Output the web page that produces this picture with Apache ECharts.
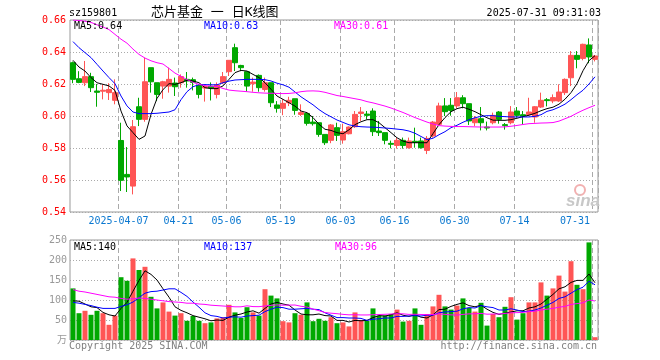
<!DOCTYPE html>
<html><head><meta charset="utf-8">
<script src="https://cdn.jsdelivr.net/npm/echarts@6/dist/echarts.min.js"></script>
<style>html,body{margin:0;padding:0;background:#fff}#c{width:660px;height:360px}</style>
</head><body><div id="c"></div>
<script>
const dates = ['2025-03-25','2025-03-26','2025-03-27','2025-03-28','2025-03-31','2025-04-01','2025-04-02','2025-04-03',
'2025-04-07','2025-04-08','2025-04-09','2025-04-10','2025-04-11','2025-04-14','2025-04-15','2025-04-16','2025-04-17','2025-04-18',
'2025-04-21','2025-04-22','2025-04-23','2025-04-24','2025-04-25','2025-04-28','2025-04-29','2025-04-30',
'2025-05-06','2025-05-07','2025-05-08','2025-05-09','2025-05-12','2025-05-13','2025-05-14','2025-05-15','2025-05-16',
'2025-05-19','2025-05-20','2025-05-21','2025-05-22','2025-05-23','2025-05-26','2025-05-27','2025-05-28','2025-05-29','2025-05-30',
'2025-06-03','2025-06-04','2025-06-05','2025-06-06','2025-06-09','2025-06-10','2025-06-11','2025-06-12','2025-06-13',
'2025-06-16','2025-06-17','2025-06-18','2025-06-19','2025-06-20','2025-06-23','2025-06-24','2025-06-25','2025-06-26','2025-06-27',
'2025-06-30','2025-07-01','2025-07-02','2025-07-03','2025-07-04','2025-07-07','2025-07-08','2025-07-09','2025-07-10','2025-07-11',
'2025-07-14','2025-07-15','2025-07-16','2025-07-17','2025-07-18','2025-07-21','2025-07-22','2025-07-23','2025-07-24','2025-07-25',
'2025-07-28','2025-07-29','2025-07-30','2025-07-31'];
const labelDates = ['2025-04-07','2025-04-21','2025-05-06','2025-05-19','2025-06-03','2025-06-16','2025-06-30','2025-07-14','2025-07-31'];

const open  = [.6333,.6233,.6208,.6246,.6156,.6155,.6146,.6098,.5847,.5635,.5562,.6058,.5979,.6302,.6208,.6187,.6187,.6206,.6208,.6229,
.6227,.6191,.6175,.6186,.6135,.6208,.6277,.6427,.6316,.6277,.6202,.6254,.6166,.6208,.6069,.6048,.6083,.6108,.6010,.6016,
.5962,.5958,.5885,.5848,.5927,.5850,.5889,.5933,.6016,.6012,.6031,.5906,.5896,.5829,.5816,.5848,.5802,.5842,.5844,.5785,
.5875,.5948,.6063,.6067,.6063,.6114,.6077,.5958,.5983,.5931,.5958,.6025,.5946,.5958,.6031,.6008,.6008,.5994,.6056,.6102,
.6094,.6094,.6146,.6239,.6379,.6360,.6444,.6354];
const close = [.6229,.6210,.6246,.6177,.6148,.6161,.6166,.6146,.5598,.5619,.5933,.5979,.6214,.6214,.6135,.6214,.6229,.6183,.6246,.6219,
.6210,.6135,.6184,.6175,.6194,.6246,.6348,.6333,.6302,.6187,.6212,.6177,.6208,.6083,.6048,.6079,.6098,.6035,.6021,.5954,
.5952,.5885,.5833,.5944,.5879,.5902,.5931,.6010,.6025,.6004,.5902,.5896,.5848,.5823,.5848,.5816,.5844,.5835,.5802,.5860,
.5962,.6063,.6027,.6035,.6114,.6077,.5969,.5983,.5958,.5925,.6004,.5979,.5940,.6025,.6004,.6000,.6025,.6058,.6098,.6096,
.6115,.6150,.6229,.6379,.6354,.6448,.6369,.6375];
const low   = [.6205,.6205,.6187,.6150,.6058,.6104,.6100,.6073,.5531,.5525,.5510,.5937,.5964,.6146,.6093,.6108,.6146,.6125,.6177,.6177,
.6160,.6110,.6090,.6097,.6110,.6200,.6250,.6281,.6280,.6152,.6152,.6152,.6152,.6056,.6021,.6005,.6062,.6008,.6000,.5940,
.5940,.5870,.5819,.5830,.5844,.5827,.5885,.5925,.5969,.5979,.5875,.5875,.5823,.5798,.5796,.5796,.5796,.5802,.5796,.5762,
.5865,.5937,.6000,.6002,.6048,.6048,.5944,.5937,.5910,.5910,.5948,.5952,.5915,.5948,.5990,.5948,.6000,.5958,.6050,.6060,
.6080,.6088,.6131,.6187,.6298,.6348,.6330,.6341];
const high  = [.6340,.6280,.6344,.6270,.6200,.6198,.6205,.6229,.5958,.5806,.5975,.6114,.6364,.6302,.6208,.6220,.6302,.6240,.6260,.6275,
.6240,.6200,.6196,.6210,.6210,.6275,.6350,.6452,.6320,.6277,.6240,.6260,.6240,.6208,.6093,.6104,.6120,.6108,.6073,.6016,
.6000,.5958,.5885,.5950,.5958,.5952,.5935,.6031,.6056,.6031,.6048,.5969,.5896,.5846,.5865,.5865,.5865,.5927,.5865,.5875,
.5969,.6083,.6112,.6112,.6150,.6130,.6077,.6000,.6056,.5965,.6021,.6031,.5956,.6062,.6056,.6031,.6114,.6062,.6146,.6112,
.6135,.6198,.6235,.6406,.6406,.6452,.6485,.6381];

const ma5 = [.6348,.6306,.6281,.6240,.6208,.6198,.6188,.6160,.6031,.5938,.5896,.5854,.5875,.6010,.6110,.6165,.6202,.6198,.6208,.6223,
.6219,.6208,.6177,.6171,.6171,.6188,.6229,.6271,.6285,.6281,.6260,.6240,.6208,.6167,.6125,.6104,.6083,.6062,.6031,.6021,
.5990,.5948,.5917,.5910,.5896,.5889,.5914,.5946,.5964,.5977,.5977,.5958,.5927,.5896,.5864,.5843,.5833,.5833,.5833,.5833,
.5890,.5946,.5990,.6027,.6046,.6055,.6042,.6027,.6008,.5989,.5974,.5973,.5973,.5977,.5986,.5996,.6005,.6017,.6033,.6046,
.6055,.6074,.6105,.6146,.6202,.6283,.6346,.6377];
const ma10 = [.6465,.6427,.6396,.6365,.6323,.6281,.6240,.6202,.6125,.6063,.6025,.6015,.6015,.6015,.6017,.6021,.6025,.6039,.6102,.6152,
.6183,.6196,.6196,.6195,.6195,.6208,.6218,.6225,.6227,.6229,.6229,.6229,.6227,.6219,.6205,.6195,.6180,.6150,.6120,.6095,
.6070,.6040,.6015,.5995,.5975,.5960,.5945,.5937,.5933,.5931,.5930,.5928,.5925,.5922,.5918,.5914,.5906,.5892,.5872,.5852,
.5861,.5883,.5902,.5927,.5942,.5961,.5977,.5989,.5998,.6002,.6002,.5998,.5996,.5994,.5994,.5994,.5994,.5998,.6008,.6029,
.6039,.6055,.6074,.6102,.6133,.6161,.6200,.6245];
const ma30 = [.6600,.6597,.6592,.6585,.6570,.6556,.6540,.6510,.6480,.6455,.6418,.6385,.6362,.6345,.6333,.6325,.6297,.6268,.6248,.6228,
.6210,.6198,.6190,.6186,.6185,.6172,.6162,.6158,.6155,.6152,.6148,.6145,.6143,.6142,.6141,.6140,.6141,.6145,.6152,.6156,
.6157,.6155,.6148,.6138,.6128,.6122,.6115,.6108,.6101,.6090,.6082,.6072,.6062,.6050,.6036,.6022,.6006,.5990,.5976,.5962,
.5950,.5940,.5937,.5935,.5934,.5934,.5933,.5932,.5931,.5931,.5931,.5931,.5932,.5936,.5941,.5947,.5952,.5954,.5956,.5957,
.5959,.5968,.5983,.5998,.6018,.6036,.6052,.6067];

const volume = [129,67,73,63,73,67,38,61,157,148,204,175,183,108,79,94,71,61,67,48,
60,48,42,44,54,57,88,69,55,82,69,61,127,111,104,47,44,67,63,94,
47,53,48,57,42,44,34,69,50,48,79,61,61,65,76,46,48,79,38,65,
84,113,84,76,86,104,80,71,93,36,65,57,83,107,51,67,94,94,144,111,
129,161,121,197,138,127,244,7];
const volMa5 = [98,97,90,83,81,69,63,60,79,94,122,149,173,164,150,128,107,83,74,68,
61,57,53,48,50,49,57,62,65,70,73,67,79,90,94,90,87,75,65,63,
63,65,61,60,49,49,45,49,48,49,56,61,60,63,68,62,59,63,57,55,
63,76,77,84,89,93,86,83,87,77,69,64,67,70,73,73,80,83,90,102,
114,128,133,144,149,149,165,143];
const volMa10 = [94,92,89,86,82,79,79,79,84,88,95,106,117,121,122,125,128,128,119,109,
95,82,68,61,59,55,57,58,57,60,61,62,71,77,82,81,77,77,78,79,
77,76,68,62,56,56,55,55,54,49,52,53,55,55,59,59,60,61,60,62,
62,68,70,71,72,78,81,80,86,83,81,75,75,78,75,71,72,75,80,87,
94,104,108,117,126,132,147,138];
const volMa30 = [126,122,120,117,114,111,108,107,104,102,103,105,104,102,100,98,96,95,94,92,
92,90,89,87,86,85,84,83,83,85.5,83.5,83.3,85.1,86.7,87.7,87,87.3,87.5,84.3,82.5,
77.3,73.2,68.7,67,65.8,64.1,62.9,63.2,62.6,62.6,63.2,63.7,64.3,65,65.7,65.4,64,64.4,63.8,63.2,
63.7,65.5,64,62.8,62.2,64,65.3,65.5,66.5,64.5,65,65,66.4,68,68.4,69,71,72,75,77,
79,82,84,89,91,93,100,97.5];

const priceTicks = [0.54, 0.66, 0.02];
const volTicks = [0, 250, 50];
const priceLegend = ['MA5:0.64', 'MA10:0.63', 'MA30:0.61'];
const volLegend = ['MA5:140', 'MA10:137', 'MA30:96'];

const RED = '#ff5555', GREEN = '#00a800';
const MONO = "'DejaVu Sans Mono', monospace";
const labelIdx = labelDates.map(d => dates.indexOf(d));
const lastIdx = labelIdx[labelIdx.length - 1];

const candles = dates.map((d, i) => [open[i], close[i], low[i], high[i]]);
const volBars = volume.map((v, i) => ({value: v, itemStyle: {color: close[i] >= open[i] ? RED : GREEN}}));

const vSplit = {show: true, interval: (i) => labelIdx.includes(i), lineStyle: {color: '#aaa', type: [5, 3], width: 1}};
const hSplit = {show: true, lineStyle: {color: '#aaa', type: [1, 2], width: 1}};

const chart = echarts.init(document.getElementById('c'), null, {renderer: 'canvas'});
const lineS = (name, data, color, xi, yi) => ({name, type: 'line', data, xAxisIndex: xi, yAxisIndex: yi, symbol: 'none',
  lineStyle: {color, width: 1}, itemStyle: {color}, z: 5, silent: true, animation: false});

chart.setOption({
  animation: false,
  grid: [
    {left: 70, right: 62, top: 20, height: 192, show: true, borderColor: '#999', borderWidth: 1, outerBoundsMode: 'none'},
    {left: 70, right: 62, top: 240, height: 100, show: true, borderColor: '#999', borderWidth: 1, outerBoundsMode: 'none'}
  ],
  xAxis: [
    {type: 'category', gridIndex: 0, data: dates, boundaryGap: true,
     axisLine: {show: false}, axisTick: {show: false}, splitLine: vSplit,
     axisLabel: {show: true, interval: (i) => labelIdx.includes(i), margin: 4, color: '#0b78d0', fontSize: 10, fontFamily: MONO,
       formatter: (v, i) => {
         const t = (i === labelIdx[0]) ? v : v.slice(5);
         return (i === lastIdx) ? '{b|' + t + '}' : '{a|' + t + '}';
       },
       rich: {a: {padding: [0, 5, 0, 0], color: '#0b78d0', fontSize: 10, fontFamily: MONO},
              b: {padding: [0, 40, 0, 0], color: '#0b78d0', fontSize: 10, fontFamily: MONO}}}},
    {type: 'category', gridIndex: 1, data: dates, boundaryGap: true,
     axisLine: {show: false}, axisTick: {show: false}, axisLabel: {show: false}, splitLine: vSplit}
  ],
  yAxis: [
    {type: 'value', gridIndex: 0, min: priceTicks[0], max: priceTicks[1], interval: priceTicks[2], scale: true,
     axisLine: {show: false}, axisTick: {show: false}, splitLine: hSplit,
     axisLabel: {margin: 4, color: '#f00', fontSize: 10, fontFamily: MONO, formatter: v => v.toFixed(2)}},
    {type: 'value', gridIndex: 1, min: volTicks[0], max: volTicks[1], interval: volTicks[2],
     axisLine: {show: false}, axisTick: {show: false}, splitLine: hSplit,
     axisLabel: {margin: 3, color: '#999', fontSize: 10, fontFamily: MONO + ", 'Noto Sans CJK SC'", formatter: v => v === 0 ? '万' : String(v)}}
  ],
  series: [
    {type: 'candlestick', xAxisIndex: 0, yAxisIndex: 0, data: candles, barWidth: 5, z: 3,
     itemStyle: {color: RED, color0: GREEN, borderColor: RED, borderColor0: GREEN, borderWidth: 1}},
    lineS('MA5', ma5, '#000', 0, 0),
    lineS('MA10', ma10, '#0000ff', 0, 0),
    lineS('MA30', ma30, '#ff00ff', 0, 0),
    {type: 'bar', xAxisIndex: 1, yAxisIndex: 1, data: volBars, barWidth: 5, z: 3},
    lineS('VMA5', volMa5, '#000', 1, 1),
    lineS('VMA10', volMa10, '#0000ff', 1, 1),
    lineS('VMA30', volMa30, '#ff00ff', 1, 1)
  ],
  graphic: [
    {type: 'text', x: 69, y: 13, style: {text: 'sz159801', fill: '#000', font: '10px ' + MONO, verticalAlign: 'middle'}},
    {type: 'text', x: 151, y: 13, style: {text: '芯片基金 一 日K线图', fill: '#000', font: "13px 'DejaVu Sans Mono', 'Noto Sans CJK SC'", verticalAlign: 'middle'}},
    {type: 'text', x: 601, y: 13, style: {text: '2025-07-31 09:31:03', fill: '#000', font: '10px ' + MONO, align: 'right', verticalAlign: 'middle'}},
    {type: 'text', x: 74, y: 26.5, z: 10, style: {text: priceLegend[0], fill: '#000', font: '10px ' + MONO, verticalAlign: 'middle'}},
    {type: 'text', x: 204, y: 26.5, z: 10, style: {text: priceLegend[1], fill: '#0000ff', font: '10px ' + MONO, verticalAlign: 'middle'}},
    {type: 'text', x: 334, y: 26.5, z: 10, style: {text: priceLegend[2], fill: '#ff00ff', font: '10px ' + MONO, verticalAlign: 'middle'}},
    {type: 'text', x: 74, y: 247, z: 10, style: {text: volLegend[0], fill: '#000', font: '10px ' + MONO, verticalAlign: 'middle'}},
    {type: 'text', x: 204, y: 247, z: 10, style: {text: volLegend[1], fill: '#0000ff', font: '10px ' + MONO, verticalAlign: 'middle'}},
    {type: 'text', x: 335, y: 247, z: 10, style: {text: volLegend[2], fill: '#ff00ff', font: '10px ' + MONO, verticalAlign: 'middle'}},
    {type: 'text', x: 69, y: 346, style: {text: 'Copyright 2025 SINA.COM', fill: '#808080', font: '10px ' + MONO, verticalAlign: 'middle'}},
    {type: 'text', x: 597, y: 346, style: {text: 'http://finance.sina.com.cn', fill: '#808080', font: '10px ' + MONO, align: 'right', verticalAlign: 'middle'}},
    {type: 'circle', z: 1, shape: {cx: 580, cy: 190, r: 5}, style: {fill: 'none', stroke: '#f2b0b0', lineWidth: 2}},
    {type: 'text', x: 566, y: 201, z: 1, style: {text: 'sina', fill: '#c8c8c8', font: 'italic bold 17px Arial, sans-serif', verticalAlign: 'middle'}}
  ]
});
</script>
</body></html>
